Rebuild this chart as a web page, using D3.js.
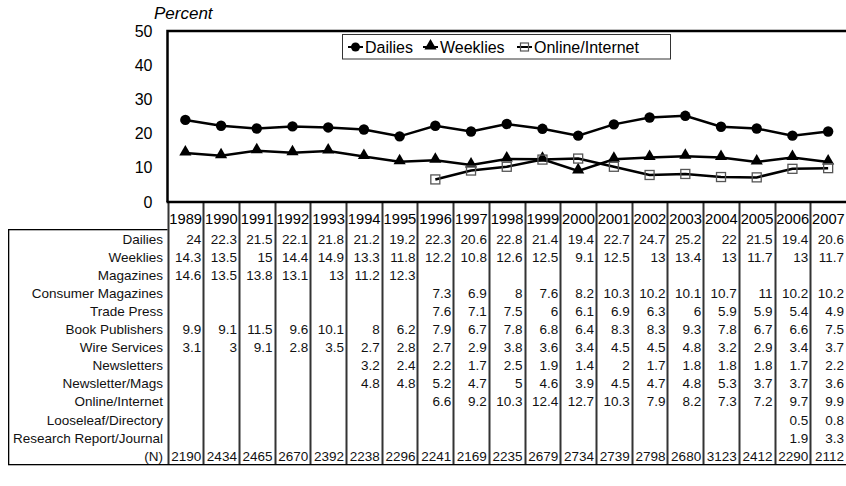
<!DOCTYPE html>
<html><head><meta charset="utf-8">
<script src="https://cdn.jsdelivr.net/npm/d3@7"></script>
<style>body{margin:0;background:#fff}svg{display:block;font-family:"Liberation Sans",Arial,sans-serif}</style>
</head><body><svg id="c" width="846" height="486"></svg>
<script>
const years = [1989,1990,1991,1992,1993,1994,1995,1996,1997,1998,1999,2000,2001,2002,2003,2004,2005,2006,2007];
const dailies = [24,22.3,21.5,22.1,21.8,21.2,19.2,22.3,20.6,22.8,21.4,19.4,22.7,24.7,25.2,22,21.5,19.4,20.6];
const weeklies = [14.3,13.5,15,14.4,14.9,13.3,11.8,12.2,10.8,12.6,12.5,9.1,12.5,13,13.4,13,11.7,13,11.7];
const magazines = [14.6,13.5,13.8,13.1,13,11.2,12.3,null,null,null,null,null,null,null,null,null,null,null,null];
const consumerMagazines = [null,null,null,null,null,null,null,7.3,6.9,8,7.6,8.2,10.3,10.2,10.1,10.7,11,10.2,10.2];
const tradePress = [null,null,null,null,null,null,null,7.6,7.1,7.5,6,6.1,6.9,6.3,6,5.9,5.9,5.4,4.9];
const bookPublishers = [9.9,9.1,11.5,9.6,10.1,8,6.2,7.9,6.7,7.8,6.8,6.4,8.3,8.3,9.3,7.8,6.7,6.6,7.5];
const wireServices = [3.1,3,9.1,2.8,3.5,2.7,2.8,2.7,2.9,3.8,3.6,3.4,4.5,4.5,4.8,3.2,2.9,3.4,3.7];
const newsletters = [null,null,null,null,null,3.2,2.4,2.2,1.7,2.5,1.9,1.4,2,1.7,1.8,1.8,1.8,1.7,2.2];
const newsletterMags = [null,null,null,null,null,4.8,4.8,5.2,4.7,5,4.6,3.9,4.5,4.7,4.8,5.3,3.7,3.7,3.6];
const online = [null,null,null,null,null,null,null,6.6,9.2,10.3,12.4,12.7,10.3,7.9,8.2,7.3,7.2,9.7,9.9];
const looseleaf = [null,null,null,null,null,null,null,null,null,null,null,null,null,null,null,null,null,0.5,0.8];
const researchReport = [null,null,null,null,null,null,null,null,null,null,null,null,null,null,null,null,null,1.9,3.3];
const sampleN = [2190,2434,2465,2670,2392,2238,2296,2241,2169,2235,2679,2734,2739,2798,2680,3123,2412,2290,2112];
const yTicks = [0,10,20,30,40,50];

const tableRows = [
  ["Dailies", dailies], ["Weeklies", weeklies], ["Magazines", magazines],
  ["Consumer Magazines", consumerMagazines], ["Trade Press", tradePress],
  ["Book Publishers", bookPublishers], ["Wire Services", wireServices],
  ["Newsletters", newsletters], ["Newsletter/Mags", newsletterMags],
  ["Online/Internet", online], ["Looseleaf/Directory", looseleaf],
  ["Research Report/Journal", researchReport], ["(N)", sampleN]
];

const svg = d3.select("#c");
const L = 167.5, R = 846, T = 31, B = 202;
const tblTop = 229.5, rowH = 18.05, tblLeft = 8;
const tblBottom = Math.round(tblTop + rowH * tableRows.length) + 0.5;

const x = d3.scaleBand().domain(years).range([L, R]).padding(0);
const cx = d => x(d) + x.bandwidth() / 2;
const y = d3.scaleLinear().domain([0, 50]).range([B, T]);

// Y axis labels
const yAxis = d3.axisLeft(y).tickValues(yTicks).tickSize(0).tickPadding(15);
const ga = svg.append("g").attr("transform", `translate(${L},0)`).call(yAxis);
ga.select(".domain").remove();
ga.selectAll("text").attr("font-size", 16).attr("fill", "#000").attr("font-family", "Liberation Sans, Arial, sans-serif");

svg.append("text").attr("x", 154).attr("y", 19).attr("font-size", 17).attr("font-style", "italic").text("Percent");

// Table column separators
let sepD = "";
years.forEach(yr => {
  const gx = Math.round(x(yr)) + 0.5;
  sepD += `M${gx},${B}V${tblBottom}`;
});
svg.append("path").attr("d", sepD).attr("fill", "none").attr("stroke", "#333").attr("stroke-width", 2);

const border = svg.append("g").attr("fill", "#000");
border.append("rect").attr("x", tblLeft).attr("y", tblTop - 0.5).attr("width", 1.3).attr("height", tblBottom - tblTop + 1);
border.append("rect").attr("x", tblLeft).attr("y", tblTop - 0.5).attr("width", L - tblLeft).attr("height", 1.3);
border.append("rect").attr("x", tblLeft).attr("y", tblBottom - 0.5).attr("width", R - tblLeft).attr("height", 1.3);

// Year headers
svg.append("g").selectAll("text").data(years).join("text")
  .attr("x", d => x(d) + 1.8).attr("y", 224).attr("font-size", 14)
  .attr("textLength", x.bandwidth() - 3).attr("lengthAdjust", "spacingAndGlyphs")
  .text(d => d);

// Table rows
const tg = svg.append("g").attr("font-size", 13.5).attr("fill", "#111");
tableRows.forEach(([label, vals], r) => {
  const by = tblTop + r * rowH + 14.5;
  tg.append("text").attr("x", 163).attr("y", by).attr("text-anchor", "end").text(label);
  vals.forEach((v, i) => {
    if (v === null) return;
    tg.append("text").attr("x", x(years[i]) + x.bandwidth() - 2).attr("y", by)
      .attr("text-anchor", "end").text(v);
  });
});

// Plot frame
const fr = svg.append("g").attr("stroke", "#000").attr("stroke-width", 2.5).attr("fill", "none");
fr.append("path").attr("d", `M${L},${B}V${T}H${R}`);
fr.append("line").attr("x1", L - 1).attr("x2", R).attr("y1", B).attr("y2", B);

// Series
const line = d3.line().defined(d => d.v !== null).x(d => cx(d.yr)).y(d => y(d.v));
const pts = arr => years.map((yr, i) => ({ yr, v: arr[i] }));

function drawLine(arr) {
  svg.append("path").datum(pts(arr)).attr("d", line).attr("fill", "none")
    .attr("stroke", "#000").attr("stroke-width", 2.5);
}
drawLine(online);
drawLine(weeklies);
drawLine(dailies);

const tri = d3.symbol().type(d3.symbolTriangle).size(64);
svg.append("g").selectAll("path").data(pts(weeklies)).join("path")
  .attr("d", tri).attr("transform", d => `translate(${cx(d.yr)},${y(d.v) - 1})`).attr("fill", "#000");
svg.append("g").selectAll("circle").data(pts(dailies)).join("circle")
  .attr("cx", d => cx(d.yr)).attr("cy", d => y(d.v)).attr("r", 5.2).attr("fill", "#000");
svg.append("g").selectAll("rect").data(pts(online).filter(d => d.v !== null)).join("rect")
  .attr("x", d => cx(d.yr) - 4.5).attr("y", d => y(d.v) - 4.5).attr("width", 9).attr("height", 9)
  .attr("fill", "none").attr("stroke", "#555").attr("stroke-width", 1.3);

// Legend
const lg = svg.append("g");
lg.append("rect").attr("x", 342.5).attr("y", 34.5).attr("width", 328).attr("height", 24.5)
  .attr("fill", "#fff").attr("stroke", "#333").attr("stroke-width", 1);
const legendItems = [["Dailies", 348, "circle"], ["Weeklies", 423, "tri"], ["Online/Internet", 517, "sq"]];
legendItems.forEach(([name, lx, m]) => {
  const my = 47;
  lg.append("line").attr("x1", lx).attr("x2", lx + 15).attr("y1", my).attr("y2", my).attr("stroke", "#000").attr("stroke-width", 2);
  if (m === "circle") lg.append("circle").attr("cx", lx + 7.5).attr("cy", my).attr("r", 4.5).attr("fill", "#000");
  if (m === "tri") lg.append("path").attr("d", tri).attr("transform", `translate(${lx + 7.5},${my - 1})`).attr("fill", "#000");
  if (m === "sq") lg.append("rect").attr("x", lx + 3.5).attr("y", my - 4).attr("width", 8).attr("height", 8).attr("fill", "none").attr("stroke", "#555").attr("stroke-width", 1.2);
  lg.append("text").attr("x", lx + 17).attr("y", 53).attr("font-size", 16).text(name);
});
</script></body></html>
